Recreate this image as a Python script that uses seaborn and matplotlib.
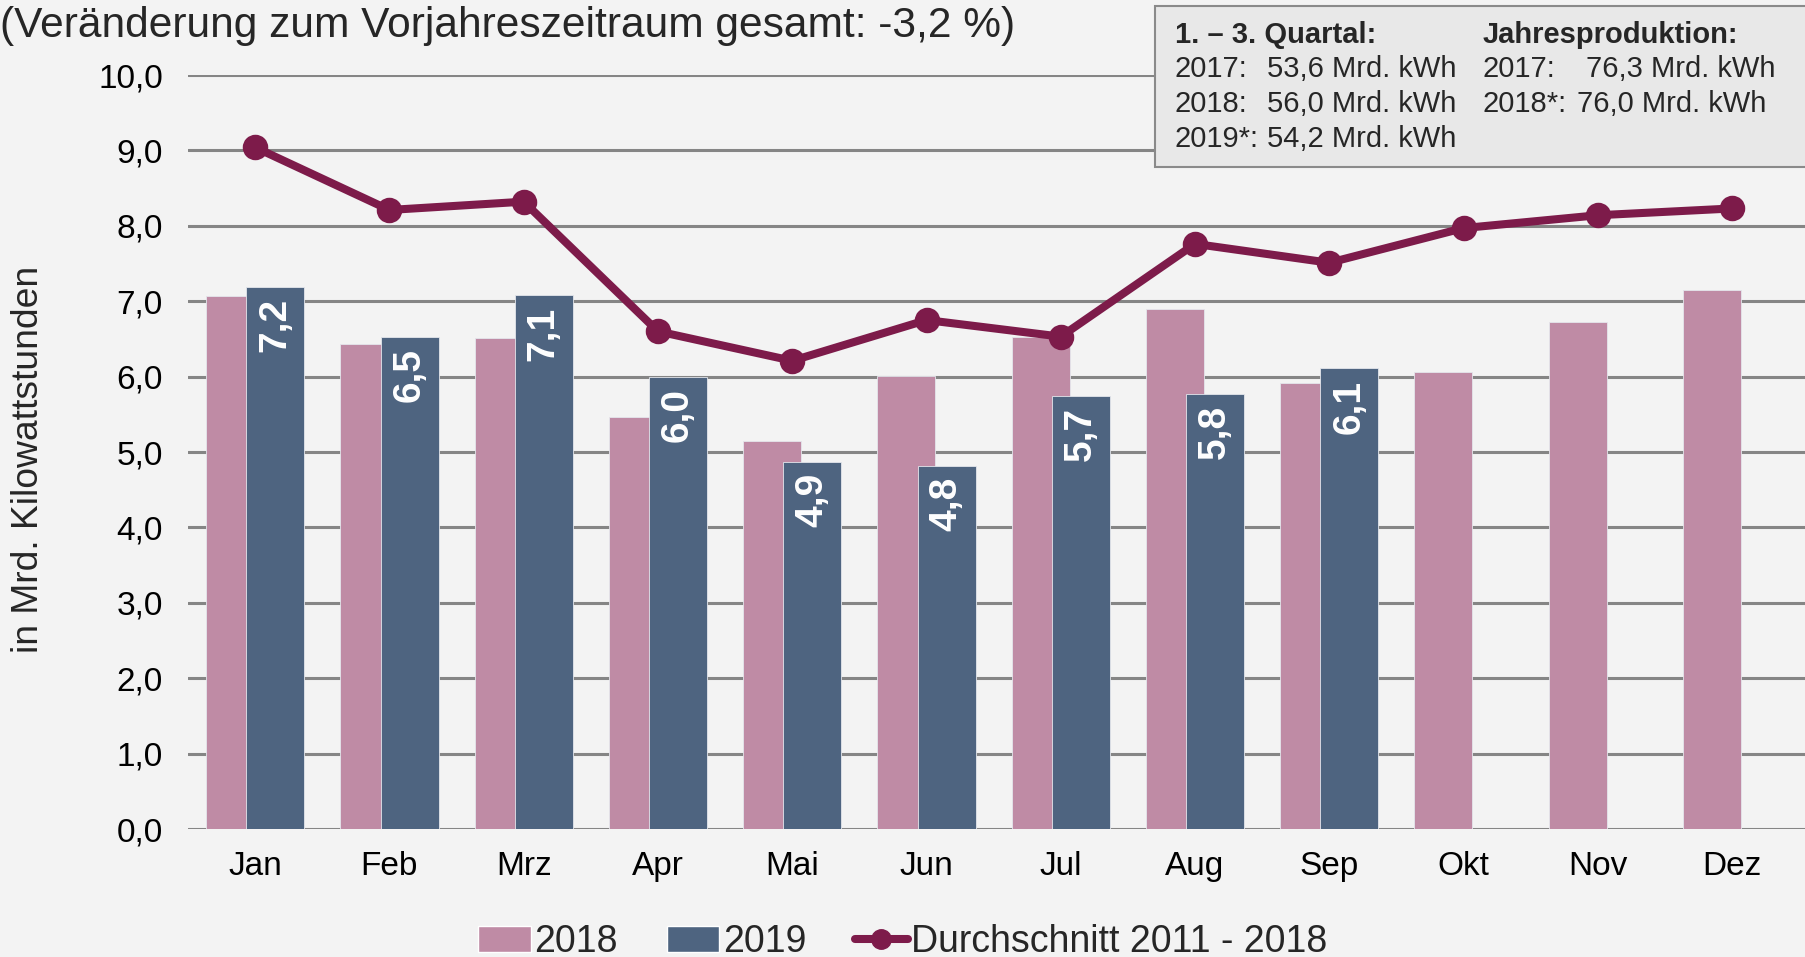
import matplotlib
matplotlib.use("Agg")
import matplotlib.pyplot as plt
from matplotlib.patches import Patch, Rectangle
from matplotlib.lines import Line2D
from matplotlib.ticker import FuncFormatter
import numpy as np
import pandas as pd
import seaborn as sns

sns.set_theme(style="white")
plt.rcParams["font.family"] = ["Liberation Sans", "DejaVu Sans"]

months = ["Jan", "Feb", "Mrz", "Apr", "Mai", "Jun", "Jul", "Aug", "Sep", "Okt", "Nov", "Dez"]
prod_2018 = [7.07, 6.43, 6.51, 5.47, 5.15, 6.01, 6.52, 6.90, 5.91, 6.06, 6.72, 7.15]
prod_2019 = [7.19, 6.53, 7.08, 6.00, 4.87, 4.82, 5.74, 5.77, 6.11, np.nan, np.nan, np.nan]
avg_2011_2018 = [9.04, 8.21, 8.32, 6.60, 6.21, 6.75, 6.53, 7.76, 7.51, 7.97, 8.14, 8.23]

title = "(Veränderung zum Vorjahreszeitraum gesamt: -3,2 %)"
ylabel = "in Mrd. Kilowattstunden"
legend_labels = ["2018", "2019", "Durchschnitt 2011 - 2018"]
box_head = ["1. – 3. Quartal:", "Jahresproduktion:"]
box_q_years = ["2017:", "2018:", "2019*:"]
box_q_vals = ["53,6 Mrd. kWh", "56,0 Mrd. kWh", "54,2 Mrd. kWh"]
box_y_years = ["2017:", "2018*:"]
box_y_vals = ["76,3 Mrd. kWh", "76,0 Mrd. kWh"]

pink = "#bf8ba5"
blue = "#4e6480"
wine = "#7d1b4a"
bg = "#f3f3f3"
grid = "#858585"

df = pd.DataFrame({
    "Monat": months * 2,
    "Jahr": ["2018"] * 12 + ["2019"] * 12,
    "Wert": prod_2018 + prod_2019,
})

W, H = 1806, 957
fig = plt.figure(figsize=(W / 100, H / 100), dpi=100, facecolor=bg)
ax = fig.add_axes([188 / W, 1 - 829 / H, 1 - 188 / W, (829 - 75) / H])
ax.set_facecolor(bg)

sns.barplot(data=df, x="Monat", y="Wert", hue="Jahr", order=months,
            hue_order=["2018", "2019"], palette=[pink, blue],
            width=0.6, gap=-0.44, dodge=True, errorbar=None, legend=False,
            edgecolor="#e4e6ec", linewidth=0.6, saturation=1, ax=ax)

sns.pointplot(x=months, y=avg_2011_2018, color=wine, markers="o",
              errorbar=None, markersize=14, linewidth=5.8, ax=ax)

# labels inside the 2019 bars
for patch, v in zip(ax.containers[1], prod_2019):
    if np.isnan(v):
        continue
    ax.annotate(f"{v:.1f}".replace(".", ","),
                xy=(patch.get_x() + patch.get_width() / 2, patch.get_height()),
                xytext=(0, -8), textcoords="offset points",
                rotation=90, ha="center", va="top",
                color="white", fontsize=28, fontweight="bold")

ax.set_xlim(-0.5, 11.55)
ax.set_ylim(0, 10)
ax.set_yticks(np.arange(0, 11, 1))
ax.yaxis.set_major_formatter(FuncFormatter(lambda v, _: f"{v:.1f}".replace(".", ",")))
ax.yaxis.grid(True, color=grid, linewidth=2.2)
ax.set_axisbelow(True)
for s in ax.spines.values():
    s.set_visible(False)
ax.tick_params(axis="both", length=0, labelsize=24, colors="black")
ax.tick_params(axis="y", pad=18)
ax.tick_params(axis="x", pad=16)
ax.set_xlabel("")
ax.set_ylabel("")

fig.text(29 / W, 1 - 459 / H, ylabel, rotation=90, ha="center", va="center", fontsize=26.8)
fig.text(0, 1 - 26 / H, title, ha="left", va="center", fontsize=30.6)

# info box
fig.patches.append(Rectangle((1155 / W, 1 - 167 / H), 1.0, 161 / H, transform=fig.transFigure,
                             facecolor="#e8e8e8", edgecolor="#8a8a8a", linewidth=1.5, zorder=5))
rows = [35, 69, 104, 139]
fs = 21
fig.text(1175 / W, 1 - rows[0] / H, box_head[0], fontsize=fs, fontweight="bold", va="center", zorder=6)
fig.text(1483 / W, 1 - rows[0] / H, box_head[1], fontsize=fs, fontweight="bold", va="center", zorder=6)
for i, (yr, val) in enumerate(zip(box_q_years, box_q_vals)):
    fig.text(1175 / W, 1 - rows[i + 1] / H, yr, fontsize=fs, va="center", zorder=6)
    fig.text(1267 / W, 1 - rows[i + 1] / H, val, fontsize=fs, va="center", zorder=6)
for i, (yr, val, xv) in enumerate(zip(box_y_years, box_y_vals, [1586, 1577])):
    fig.text(1483 / W, 1 - rows[i + 1] / H, yr, fontsize=fs, va="center", zorder=6)
    fig.text(xv / W, 1 - rows[i + 1] / H, val, fontsize=fs, va="center", zorder=6)

handles = [Patch(facecolor=pink), Patch(facecolor=blue),
           Line2D([0], [0], color=wine, linewidth=5.8, marker="o", markersize=14)]
fig.legend(handles, legend_labels, loc="center", bbox_to_anchor=(0.5, 1 - 942 / H),
           ncol=3, frameon=False, fontsize=27, handlelength=1.4, handleheight=0.7,
           handletextpad=0.1, columnspacing=1.3)

fig.savefig("out.png", dpi=100, facecolor=bg)
